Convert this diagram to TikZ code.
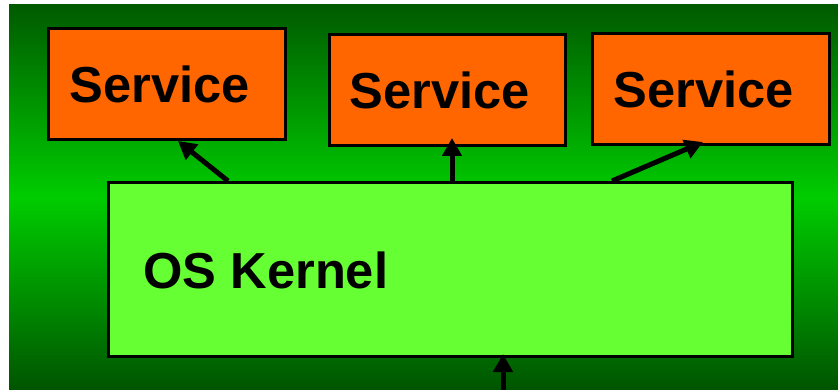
\documentclass[tikz,border=0pt]{standalone}
\usepackage{fontspec}
\setmainfont{Liberation Sans}
\usetikzlibrary{arrows.meta}
\definecolor{bgdark}{RGB}{0,90,0}
\definecolor{bgdarkb}{RGB}{0,84,0}
\definecolor{bgmid}{RGB}{0,204,0}
\definecolor{svc}{RGB}{255,102,0}
\definecolor{kern}{RGB}{102,255,51}
\tikzset{
  box/.style={draw=black, line width=3pt, inner sep=0pt, anchor=north west},
  svcbox/.style={box, fill=svc, minimum width=237pt, minimum height=111pt},
  lbl/.style={font=\fontsize{50.6}{56}\selectfont\bfseries, text=black},
  arr/.style={line width=5pt, -{Triangle[length=18pt,width=19pt]}},
}
\begin{document}
\begin{tikzpicture}[x=1pt,y=-1pt]
  \useasboundingbox (0,0) rectangle (838,390);
  % background: vertical green gradient built from thin strips
  \foreach \i in {0,2,...,192} {
    \pgfmathsetmacro{\p}{\i/1.93}
    \fill[bgmid!\p!bgdark] (9,4+\i) rectangle (838,6.6+\i);
  }
  \foreach \i in {0,2,...,192} {
    \pgfmathsetmacro{\p}{\i/1.93}
    \fill[bgdarkb!\p!bgmid] (9,197+\i) rectangle (838,199.6+\i);
  }
  % service boxes
  \node[svcbox] (s1) at (46.5,27.5) {};
  \node[svcbox, minimum width=236pt] (s2) at (327.5,33.5) {};
  \node[svcbox, minimum width=237pt] (s3) at (590.5,32.5) {};
  \node[lbl] at ([xshift=-7pt]s1.center) {Service};
  \node[lbl] at ([xshift=-7pt]s2.center) {Service};
  \node[lbl] at ([xshift=-7pt]s3.center) {Service};
  % kernel box
  \node[box, fill=kern, minimum width=684pt, minimum height=173pt] (k) at (106.5,181.5) {};
  \node[lbl, anchor=west] at (140,270) {OS Kernel};
  % arrow ends
  \coordinate (a1) at (228,181);
  \coordinate (a2) at (452,181);
  \coordinate (a3) at (612,181);
  \coordinate (b0) at (503,390);
  \coordinate (t1) at (178,141);
  \coordinate (t2) at (452,138);
  \coordinate (t3) at (703,142);
  \coordinate (t0) at (503,354);
  \draw[arr] (a1) -- (t1);
  \draw[arr] (a2) -- (t2);
  \draw[arr] (a3) -- (t3);
  \draw[arr] (b0) -- (t0);
\end{tikzpicture}
\end{document}
